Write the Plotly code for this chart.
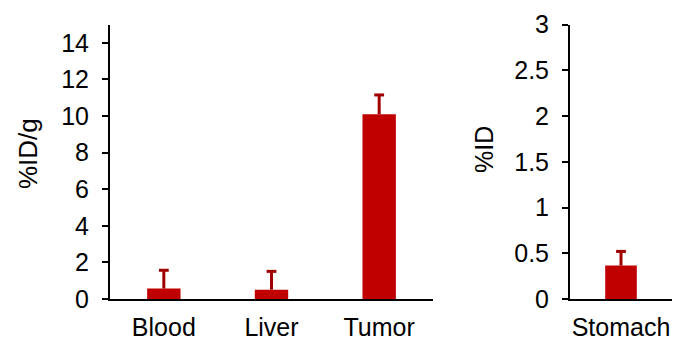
import plotly.graph_objects as go

# Data
organs_g = ["Blood", "Liver", "Tumor"]
id_per_g = [0.57, 0.51, 10.1]
id_per_g_err = [1.0, 1.0, 1.05]

organs_id = ["Stomach"]
id_pct = [0.365]
id_pct_err = [0.155]

left_ticks = [0, 2, 4, 6, 8, 10, 12, 14]
right_ticks = [0, 0.5, 1, 1.5, 2, 2.5, 3]
right_ticktext = ["0", "0.5", "1", "1.5", "2", "2.5", "3"]

BAR = "#C00000"
ERR = "#A00000"
FONT = "Liberation Sans, Arial, sans-serif"
FS = 25


def add_panel(fig, cats, vals, errs, xa, ya):
    # bar with the upward error stem (no caps)
    fig.add_trace(go.Bar(
        x=cats, y=vals, width=0.31, marker=dict(color=BAR, line=dict(width=0)),
        error_y=dict(type="data", array=errs, arrayminus=[0] * len(vals),
                     symmetric=False, color=ERR, thickness=3, width=0),
        xaxis=xa, yaxis=ya, showlegend=False, hoverinfo="skip"))
    # top cap of the error bar
    tops = [v + e for v, e in zip(vals, errs)]
    fig.add_trace(go.Scatter(
        x=cats, y=tops, mode="markers",
        marker=dict(symbol="line-ew", size=7, color=ERR, line=dict(color=ERR, width=3)),
        xaxis=xa, yaxis=ya, showlegend=False, hoverinfo="skip", cliponaxis=False))


fig = go.Figure()
add_panel(fig, organs_g, id_per_g, id_per_g_err, "x", "y")
add_panel(fig, organs_id, id_pct, id_pct_err, "x2", "y2")

ydom = [56 / 355, 330.5 / 355]
axis_common = dict(showline=True, linecolor="black", linewidth=2, showgrid=False,
                   zeroline=False, automargin=False,
                   tickfont=dict(family=FONT, size=FS, color="black"))

fig.update_layout(
    width=695, height=355,
    margin=dict(l=0, r=0, t=0, b=0),
    paper_bgcolor="white", plot_bgcolor="white",
    font=dict(family=FONT, size=FS, color="black"),
    xaxis=dict(domain=[110 / 695, 433 / 695], anchor="y", ticks="",
               range=[-0.5, 2.5], ticklabelstandoff=5, **axis_common),
    yaxis=dict(domain=ydom, anchor="x", range=[0, 15], tickvals=left_ticks,
               ticks="outside", ticklen=6, tickwidth=2, tickcolor="black",
               ticklabelstandoff=8, **axis_common),
    xaxis2=dict(domain=[570 / 695, 672 / 695], anchor="y2", ticks="",
                range=[-0.5, 0.5], ticklabelstandoff=5, **axis_common),
    yaxis2=dict(domain=ydom, anchor="x2", range=[0, 3], tickvals=right_ticks,
                ticktext=right_ticktext, ticks="outside", ticklen=6, tickwidth=2,
                tickcolor="black", ticklabelstandoff=8, **axis_common),
    annotations=[
        dict(text="%ID/g", x=28 / 695, y=(355 - 153) / 355, xref="paper", yref="paper",
             textangle=-90, showarrow=False, xanchor="center", yanchor="middle",
             font=dict(family=FONT, size=26, color="black")),
        dict(text="%ID", x=484 / 695, y=(355 - 150) / 355, xref="paper", yref="paper",
             textangle=-90, showarrow=False, xanchor="center", yanchor="middle",
             font=dict(family=FONT, size=FS, color="black")),
    ],
)

fig.write_html("out.html")
